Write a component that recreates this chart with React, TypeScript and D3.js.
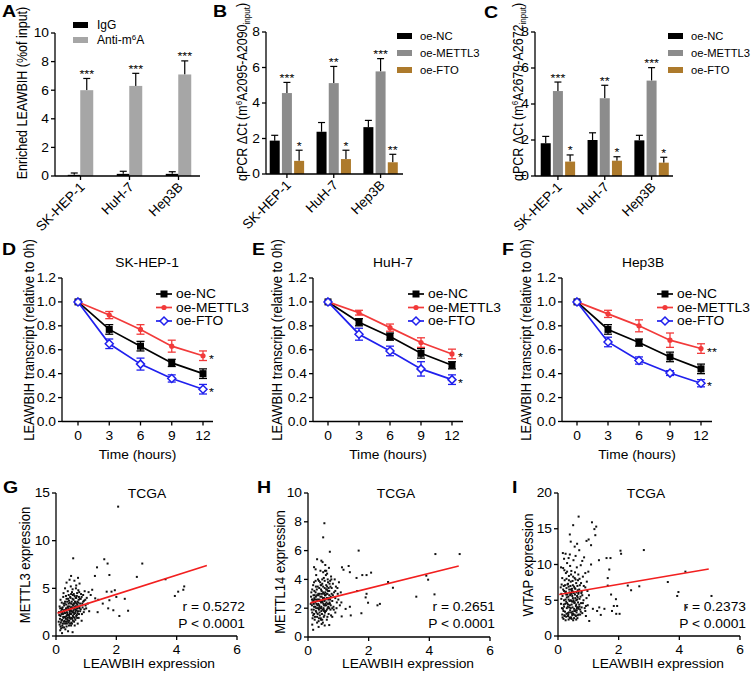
import React from 'react';
import * as d3 from 'd3';

const FONT = '"Liberation Sans", Arial, Helvetica, sans-serif';
const SX = 1.15;
const FS = 12;

// ---------- A/B/C bar data ----------
const cellLines = ['SK-HEP-1', 'HuH-7', 'Hep3B'];
const aIgG = [0.08, 0.15, 0.15];
const aIgGErr = [0.13, 0.18, 0.15];
const aAnti = [6.0, 6.3, 7.1];
const aAntiErr = [0.82, 0.88, 0.95];
const aStars = ['***', '***', '***'];
const aTicks = [0, 2, 4, 6, 8, 10];

const bNC = [1.88, 2.38, 2.64];
const bNCErr = [0.3, 0.52, 0.38];
const bMETTL3 = [4.56, 5.12, 5.78];
const bMETTL3Err = [0.6, 0.94, 0.72];
const bFTO = [0.74, 0.84, 0.66];
const bFTOErr = [0.6, 0.5, 0.45];
const bStarsM = ['***', '**', '***'];
const bStarsF = ['*', '*', '**'];

const cNC = [1.82, 2.0, 1.98];
const cNCErr = [0.38, 0.4, 0.28];
const cMETTL3 = [4.72, 4.32, 5.3];
const cMETTL3Err = [0.5, 0.72, 0.72];
const cFTO = [0.8, 0.85, 0.74];
const cFTOErr = [0.37, 0.22, 0.3];
const cStarsM = ['***', '**', '***'];
const cStarsF = ['*', '*', '*'];
const qpcrTicks = [0, 2, 4, 6, 8];

// ---------- D/E/F line data ----------
const timePoints = [0, 3, 6, 9, 12];
const timeTicks = [0, 3, 6, 9, 12];
const relTicks = [0, 0.2, 0.4, 0.6, 0.8, 1.0, 1.2];

const dNC = [1.0, 0.77, 0.63, 0.49, 0.4];
const dNCErr = [0, 0.04, 0.04, 0.03, 0.04];
const dMETTL3 = [1.0, 0.89, 0.77, 0.63, 0.55];
const dMETTL3Err = [0, 0.03, 0.04, 0.05, 0.04];
const dFTO = [1.0, 0.65, 0.48, 0.36, 0.27];
const dFTOErr = [0, 0.04, 0.05, 0.03, 0.04];

const eNC = [1.0, 0.83, 0.71, 0.57, 0.47];
const eNCErr = [0, 0.03, 0.03, 0.04, 0.03];
const eMETTL3 = [1.0, 0.91, 0.785, 0.66, 0.565];
const eMETTL3Err = [0, 0.02, 0.03, 0.04, 0.04];
const eFTO = [1.0, 0.73, 0.59, 0.44, 0.35];
const eFTOErr = [0, 0.05, 0.04, 0.06, 0.04];

const fNC = [1.0, 0.77, 0.66, 0.54, 0.44];
const fNCErr = [0, 0.04, 0.03, 0.04, 0.04];
const fMETTL3 = [1.0, 0.9, 0.8, 0.68, 0.61];
const fMETTL3Err = [0, 0.03, 0.05, 0.06, 0.04];
const fFTO = [1.0, 0.665, 0.51, 0.405, 0.32];
const fFTOErr = [0, 0.04, 0.03, 0.02, 0.03];

// ---------- G/H/I scatter data ----------
const exprTicks = [0, 2, 4, 6];
const gTicks = [0, 5, 10, 15];
const hTicks = [0, 2, 4, 6, 8, 10];
const iTicks = [0, 5, 10, 15, 20];

const gPoints = [
  [2.06, 13.57], [0.57, 8.15], [1.6, 8.05], [1.71, 7.6], [2.86, 7.6], [1.36, 7.2], [1.77, 6.4], [1.29, 6.3],
  [2.68, 6.2], [3.63, 5.95], [4.25, 5.2], [4.22, 4.85], [4.05, 4.65], [3.94, 4.2], [1.68, 4.65], [1.84, 4.65],
  [1.95, 4.8], [2.28, 3.9], [2.0, 4.1], [1.77, 3.75], [1.73, 2.9], [1.9, 2.7], [2.1, 2.1], [2.39, 2.65],
  [1.38, 2.5], [1.55, 3.4], [1.4, 3.8], [1.08, 4.6], [1.2, 4.85], [1.15, 4.3], [1.3, 3.95],
  [0.12, 1.2], [0.15, 2.1], [0.18, 1.6], [0.2, 2.8], [0.22, 0.9], [0.25, 1.9], [0.27, 3.2], [0.28, 2.4],
  [0.3, 1.3], [0.3, 3.6], [0.32, 2.0], [0.33, 2.9], [0.35, 1.0], [0.35, 3.9], [0.36, 2.5], [0.38, 1.7],
  [0.4, 3.1], [0.4, 2.2], [0.42, 4.3], [0.42, 1.4], [0.44, 2.7], [0.45, 3.5], [0.46, 1.9], [0.48, 2.3],
  [0.48, 4.0], [0.5, 1.1], [0.5, 3.0], [0.52, 2.6], [0.53, 4.6], [0.54, 1.8], [0.55, 3.3], [0.56, 2.1],
  [0.58, 3.8], [0.6, 2.9], [0.6, 1.5], [0.62, 4.2], [0.63, 2.4], [0.65, 3.5], [0.66, 5.0], [0.68, 2.7],
  [0.7, 1.9], [0.7, 4.5], [0.72, 3.1], [0.75, 3.8], [0.76, 2.3], [0.78, 5.5], [0.8, 3.4], [0.82, 2.8],
  [0.85, 4.1], [0.88, 3.0], [0.9, 3.6], [0.92, 2.5], [0.95, 4.7], [0.98, 3.2], [1.0, 2.9], [1.02, 4.0],
  [1.05, 3.4], [1.1, 2.6], [0.1, 2.5], [0.12, 3.1], [0.14, 0.6], [0.16, 1.4], [0.17, 2.6], [0.19, 3.5],
  [0.21, 1.1], [0.23, 2.3], [0.24, 4.1], [0.26, 1.5], [0.29, 2.7], [0.31, 0.7], [0.34, 3.3], [0.37, 2.2],
  [0.39, 4.7], [0.41, 1.6], [0.43, 3.7], [0.47, 2.8], [0.49, 5.2], [0.51, 1.4], [0.55, 4.9], [0.57, 2.5],
  [0.59, 3.4], [0.61, 5.8], [0.64, 3.1], [0.67, 4.0], [0.69, 2.2], [0.71, 3.6], [0.73, 6.1], [0.74, 4.8],
  [0.77, 2.9], [0.79, 3.9], [0.83, 4.4], [0.86, 2.3], [0.93, 3.7], [0.2, 0.3], [0.25, 4.5], [0.3, 5.0],
  [0.45, 5.9], [0.5, 6.3], [0.35, 5.6], [0.55, 0.4], [0.15, 3.8], [0.62, 1.1], [0.4, 0.5], [0.72, 1.3],
  [0.85, 1.6], [0.28, 2.0], [0.33, 1.8], [0.46, 2.6], [0.52, 3.6], [0.58, 2.0], [0.65, 2.6], [0.38, 3.0],
  [0.44, 2.0], [0.27, 2.6], [0.36, 1.3],
];
const gCore = [
  [0.18, 2.3], [0.2, 1.7], [0.22, 3.0], [0.24, 2.0], [0.26, 2.7], [0.28, 1.6], [0.29, 3.4], [0.31, 2.4],
  [0.32, 1.5], [0.34, 2.8], [0.35, 2.1], [0.37, 3.6], [0.38, 2.4], [0.39, 1.9], [0.41, 2.9], [0.42, 3.4],
  [0.43, 2.2], [0.44, 1.6], [0.45, 3.1], [0.46, 2.4], [0.47, 4.1], [0.48, 1.8], [0.49, 2.7], [0.5, 3.4],
  [0.51, 2.3], [0.52, 1.9], [0.53, 3.0], [0.54, 2.5], [0.55, 3.9], [0.56, 1.6], [0.57, 3.2], [0.58, 2.7],
  [0.59, 4.4], [0.6, 2.3], [0.61, 3.0], [0.62, 1.9], [0.63, 3.6], [0.64, 2.8], [0.65, 4.0], [0.66, 3.1],
  [0.67, 2.1], [0.68, 3.4], [0.69, 4.2], [0.7, 2.9], [0.71, 3.3], [0.73, 2.6], [0.74, 3.5], [0.76, 4.1],
  [0.78, 3.0], [0.8, 2.6], [0.15, 1.0], [0.17, 0.8], [0.19, 2.9], [0.23, 1.3], [0.25, 3.4], [0.27, 0.9],
  [0.33, 4.2], [0.36, 1.5], [0.4, 3.9], [0.43, 1.1], [0.47, 1.3], [0.5, 4.4], [0.53, 1.3], [0.56, 4.3],
  [0.6, 3.4], [0.64, 1.7], [0.67, 5.3], [0.71, 2.4], [0.75, 1.9], [0.77, 4.6], [0.82, 3.9], [0.87, 3.4],
  [0.9, 4.3], [0.94, 2.8], [0.97, 3.8], [0.13, 1.8], [0.11, 2.2], [0.09, 1.5], [0.14, 2.9], [0.21, 2.5],
];

const hPoints = [
  [0.54, 7.9], [0.5, 6.92], [0.72, 5.92], [1.67, 6.0], [4.2, 5.76], [5.0, 5.76], [1.34, 4.93], [1.12, 4.84],
  [1.17, 4.67], [2.08, 4.47], [1.93, 4.3], [1.79, 4.3], [1.6, 4.1], [1.38, 4.5], [2.64, 3.82], [2.8, 3.42],
  [3.9, 4.26], [3.96, 3.98], [4.17, 2.96], [3.57, 2.8], [1.62, 3.19], [1.93, 3.0], [1.9, 2.75], [1.98, 2.38],
  [2.37, 2.3], [2.29, 2.2], [1.76, 1.65], [1.38, 2.1], [1.24, 1.95], [1.41, 1.5], [1.11, 1.43], [0.7, 0.83],
  [0.17, 0.5], [0.14, 0.86], [0.3, 1.0], [0.2, 4.85], [0.44, 5.3],
  [0.1, 2.8], [0.12, 1.9], [0.14, 3.3], [0.15, 2.4], [0.17, 1.5], [0.18, 2.9], [0.2, 2.1], [0.2, 3.8],
  [0.22, 1.2], [0.23, 2.6], [0.25, 3.1], [0.26, 1.8], [0.27, 4.3], [0.28, 2.3], [0.3, 2.9], [0.3, 1.4],
  [0.32, 3.5], [0.33, 2.0], [0.34, 2.6], [0.35, 1.1], [0.36, 3.9], [0.37, 2.2], [0.38, 1.7], [0.39, 3.0],
  [0.4, 2.5], [0.41, 4.6], [0.42, 1.3], [0.43, 3.3], [0.44, 2.1], [0.45, 2.8], [0.46, 1.6], [0.47, 3.7],
  [0.48, 2.4], [0.49, 1.0], [0.5, 3.1], [0.51, 2.0], [0.52, 4.1], [0.53, 2.7], [0.54, 1.5], [0.55, 3.4],
  [0.56, 2.2], [0.57, 5.0], [0.58, 2.9], [0.59, 1.8], [0.6, 3.6], [0.61, 2.4], [0.62, 1.2], [0.63, 4.4],
  [0.64, 3.0], [0.65, 2.0], [0.66, 3.8], [0.67, 2.6], [0.68, 1.6], [0.69, 4.8], [0.7, 3.2], [0.72, 2.3],
  [0.73, 3.9], [0.74, 1.9], [0.75, 2.8], [0.76, 4.2], [0.78, 3.4], [0.8, 2.5], [0.82, 3.7], [0.84, 2.1],
  [0.86, 3.1], [0.88, 4.0], [0.9, 2.7], [0.92, 3.5], [0.95, 2.4], [0.98, 3.0], [1.0, 2.6], [1.02, 3.8],
  [1.05, 2.2], [0.13, 2.2], [0.16, 2.6], [0.19, 1.9], [0.21, 3.2], [0.24, 2.4], [0.29, 2.6], [0.31, 2.2],
  [0.34, 3.0], [0.38, 2.6], [0.4, 2.0], [0.43, 2.4], [0.46, 3.0], [0.5, 2.6], [0.53, 2.2], [0.56, 2.9],
  [0.58, 2.3], [0.62, 2.7], [0.66, 2.3], [0.7, 2.7], [0.45, 0.9], [0.55, 0.8], [0.35, 0.7], [0.25, 4.7],
  [0.3, 5.4], [0.48, 5.2], [0.6, 4.6], [0.8, 1.4], [0.9, 1.7], [0.62, 3.3], [0.26, 3.5], [0.44, 3.6],
  [0.52, 1.9], [0.7, 2.0], [0.36, 1.9],
];
const hCore = [
  [0.18, 2.5], [0.2, 1.6], [0.22, 2.9], [0.24, 2.1], [0.26, 2.8], [0.28, 1.7], [0.29, 3.3], [0.31, 2.5],
  [0.32, 1.6], [0.34, 2.3], [0.35, 2.9], [0.37, 3.4], [0.38, 2.1], [0.39, 1.5], [0.41, 2.8], [0.42, 3.6],
  [0.43, 2.0], [0.44, 1.8], [0.45, 3.2], [0.46, 2.5], [0.47, 4.0], [0.48, 1.9], [0.49, 2.7], [0.5, 3.5],
  [0.51, 2.3], [0.52, 1.4], [0.53, 3.0], [0.54, 2.5], [0.55, 3.9], [0.56, 1.7], [0.57, 3.1], [0.58, 2.6],
  [0.59, 4.3], [0.6, 2.2], [0.61, 3.0], [0.62, 1.9], [0.63, 3.5], [0.64, 2.7], [0.65, 4.0], [0.66, 3.2],
  [0.67, 2.1], [0.68, 3.4], [0.7, 2.9], [0.71, 2.4], [0.73, 2.6], [0.74, 3.5], [0.76, 1.5], [0.78, 3.0],
  [0.8, 2.0], [0.15, 1.3], [0.17, 3.6], [0.19, 2.3], [0.23, 1.4], [0.25, 3.9], [0.27, 2.0], [0.33, 4.0],
  [0.36, 1.3], [0.4, 3.8], [0.43, 1.2], [0.47, 1.2], [0.5, 4.5], [0.53, 1.8], [0.56, 4.6], [0.6, 3.3],
  [0.64, 1.4], [0.71, 3.7], [0.75, 2.2], [0.77, 4.0], [0.82, 2.9], [0.85, 1.9], [0.9, 3.2], [0.94, 2.0],
  [0.97, 3.4], [0.13, 2.6], [0.11, 3.1], [0.09, 2.3], [0.14, 1.7], [0.21, 2.7], [1.08, 3.1], [1.1, 2.4],
];

const iPoints = [
  [0.68, 16.7], [0.5, 15.5], [1.12, 15.9], [1.26, 15.3], [1.2, 14.95], [0.39, 14.2], [1.23, 14.1], [1.01, 13.5],
  [0.94, 13.3], [0.63, 12.9], [1.09, 12.7], [2.06, 11.93], [2.08, 11.5], [2.83, 12.02], [0.16, 11.6], [1.73, 10.9],
  [1.6, 10.9], [1.35, 10.6], [1.69, 9.3], [1.09, 10.0], [4.2, 9.0], [1.64, 8.1], [1.64, 7.05], [2.3, 7.05],
  [2.68, 6.95], [2.41, 6.4], [3.62, 7.55], [3.97, 6.15], [3.93, 5.6], [5.06, 5.6], [4.24, 4.0], [1.75, 5.8],
  [1.91, 5.15], [1.84, 4.2], [1.95, 4.2], [2.03, 3.1], [1.92, 3.1], [1.78, 3.5], [1.53, 3.8], [1.36, 4.0],
  [1.29, 3.5], [1.15, 3.8], [1.41, 2.95], [1.03, 2.1], [0.92, 4.2], [0.1, 9.6],
  [0.1, 4.5], [0.12, 7.2], [0.14, 3.0], [0.15, 5.6], [0.17, 9.5], [0.18, 2.4], [0.2, 6.3], [0.2, 4.1],
  [0.22, 7.8], [0.23, 3.4], [0.25, 5.1], [0.26, 8.8], [0.27, 2.7], [0.28, 6.7], [0.3, 4.6], [0.3, 10.2],
  [0.32, 3.2], [0.33, 7.3], [0.34, 5.5], [0.35, 2.3], [0.36, 8.4], [0.37, 4.0], [0.38, 6.1], [0.39, 11.4],
  [0.4, 3.6], [0.41, 7.0], [0.42, 5.0], [0.43, 2.6], [0.44, 9.1], [0.45, 4.4], [0.46, 6.6], [0.47, 3.1],
  [0.48, 7.7], [0.49, 5.3], [0.5, 2.2], [0.51, 10.6], [0.52, 4.8], [0.53, 6.9], [0.54, 3.5], [0.55, 8.1],
  [0.56, 5.8], [0.57, 2.9], [0.58, 11.2], [0.59, 4.2], [0.6, 7.4], [0.61, 3.3], [0.62, 9.6], [0.63, 5.6],
  [0.64, 2.5], [0.65, 6.4], [0.66, 4.0], [0.67, 8.6], [0.68, 3.0], [0.7, 12.0], [0.71, 5.2], [0.72, 7.1],
  [0.73, 3.7], [0.75, 9.9], [0.76, 4.6], [0.78, 6.2], [0.8, 3.2], [0.82, 8.3], [0.84, 5.0], [0.86, 11.0],
  [0.88, 3.9], [0.9, 6.8], [0.92, 2.8], [0.95, 7.6], [0.98, 4.3], [1.0, 9.0], [1.02, 5.7], [0.11, 5.9],
  [0.16, 3.8], [0.19, 7.0], [0.21, 2.9], [0.24, 6.0], [0.29, 3.9], [0.31, 5.8], [0.33, 2.8], [0.35, 6.9],
  [0.38, 4.9], [0.4, 5.7], [0.42, 3.9], [0.45, 5.9], [0.47, 4.8], [0.5, 6.2], [0.52, 3.0], [0.55, 4.7],
  [0.57, 6.6], [0.6, 5.0], [0.62, 3.9], [0.65, 5.4], [0.68, 6.1], [0.7, 4.4], [0.43, 6.5], [0.36, 3.3],
  [0.27, 4.8], [0.48, 3.4], [0.58, 3.6], [0.66, 7.8], [0.25, 11.5], [0.35, 10.9], [0.55, 12.5], [0.42, 13.2],
  [0.8, 10.5], [0.9, 8.8], [0.3, 9.0], [0.2, 10.8],
];
const iCore = [
  [0.18, 3.5], [0.2, 5.0], [0.22, 2.8], [0.24, 4.5], [0.26, 6.2], [0.28, 3.1], [0.29, 5.4], [0.31, 7.2],
  [0.32, 4.1], [0.34, 3.0], [0.35, 5.1], [0.37, 6.5], [0.38, 2.6], [0.39, 4.3], [0.41, 5.9], [0.42, 7.6],
  [0.43, 3.3], [0.44, 4.9], [0.45, 2.4], [0.46, 6.3], [0.47, 5.6], [0.48, 4.0], [0.49, 7.1], [0.5, 3.1],
  [0.51, 5.0], [0.52, 6.0], [0.53, 2.5], [0.54, 4.6], [0.55, 6.7], [0.56, 3.5], [0.57, 5.3], [0.58, 7.9],
  [0.59, 2.8], [0.6, 4.4], [0.61, 6.1], [0.62, 3.6], [0.63, 5.1], [0.64, 7.0], [0.65, 2.9], [0.66, 4.7],
  [0.67, 5.9], [0.68, 3.8], [0.7, 6.5], [0.71, 4.1], [0.73, 3.0], [0.74, 5.5], [0.76, 7.4], [0.78, 4.0],
  [0.8, 5.7], [0.15, 2.6], [0.17, 6.5], [0.19, 4.4], [0.23, 7.1], [0.25, 2.2], [0.27, 5.8], [0.33, 4.4],
  [0.36, 7.8], [0.4, 2.5], [0.43, 8.6], [0.47, 2.9], [0.5, 8.3], [0.53, 3.8], [0.56, 8.9], [0.6, 2.3],
  [0.64, 4.0], [0.71, 8.0], [0.75, 3.4], [0.77, 6.0], [0.82, 4.6], [0.85, 7.0], [0.9, 3.5], [0.94, 5.3],
  [0.97, 6.3], [0.13, 3.9], [0.11, 5.2], [0.09, 6.8], [0.14, 8.1], [0.21, 9.2], [0.28, 8.0], [0.4, 9.8],
];

const gFit = [[0.05, 2.4], [5.0, 7.4]];
const hFit = [[0.08, 2.37], [4.97, 4.93]];
const iFit = [[0.04, 5.8], [4.97, 9.37]];

// ---------- helpers ----------
function T({ x, y, children, size = FS, anchor = 'start', rotate = 0, weight = 'normal', fill = '#000', sx = SX }: any) {
  return (
    <text
      transform={`translate(${x},${y}) scale(${sx},1)${rotate ? ` rotate(${rotate})` : ''}`}
      fontSize={size}
      textAnchor={anchor}
      fontWeight={weight}
      fill={fill}
    >
      {children}
    </text>
  );
}

const AX = { stroke: '#000', strokeWidth: 1.3 };

function BarPanel({ cfg }: any) {
  const { axisX, axisEnd, yTop, yBottom, yMax, ticks, xRange, series, barW, barStep, legend, letter, ylabel } = cfg;
  const y = d3.scaleLinear().domain([0, yMax]).range([yBottom, yTop]);
  const x = d3.scalePoint<string>().domain(cellLines).range(xRange).padding(0.5);
  const n = series.length;
  return (
    <g>
      <T x={letter.x} y={letter.y} size={17} weight="bold">{letter.t}</T>
      {series.map((s: any, j: number) =>
        cellLines.map((c, i) => {
          const cx = (x(c) as number) + (j - (n - 1) / 2) * barStep;
          const top = y(s.values[i]);
          const cap = y(s.values[i] + s.errs[i]);
          return (
            <g key={`${j}-${i}`}>
              <line x1={cx} x2={cx} y1={top} y2={cap} stroke="#000" strokeWidth={1.2} />
              <line x1={cx - 3.5} x2={cx + 3.5} y1={cap} y2={cap} stroke="#000" strokeWidth={1.2} />
              <rect x={cx - barW / 2} y={top} width={barW} height={yBottom - top} fill={s.color} />
              {s.stars[i] ? <T x={cx} y={cap - 0.5} size={11} anchor="middle">{s.stars[i]}</T> : null}
            </g>
          );
        })
      )}
      <line x1={axisX} x2={axisX} y1={yBottom} y2={yTop} {...AX} />
      <line x1={axisX} x2={axisEnd} y1={yBottom} y2={yBottom} {...AX} />
      {ticks.map((t: number) => (
        <g key={t}>
          <line x1={axisX - 4} x2={axisX} y1={y(t)} y2={y(t)} {...AX} />
          <T x={axisX - 6} y={y(t) + 4.3} anchor="end">{t}</T>
        </g>
      ))}
      {cellLines.map((c) => (
        <g key={c}>
          <line x1={x(c)} x2={x(c)} y1={yBottom} y2={yBottom + 4} {...AX} />
          <T x={(x(c) as number) + 5} y={yBottom + 12} anchor="end" rotate={-45} sx={1} size={13.5}>{c}</T>
        </g>
      ))}
      {series.map((s: any, j: number) => (
        <g key={s.label}>
          <rect x={legend.x} y={legend.y0 + j * legend.dy - 3} width={15} height={6} fill={s.color} />
          <T x={legend.textX} y={legend.y0 + j * legend.dy + 4.2} sx={1} size={legend.size}>{s.labelNode || s.label}</T>
        </g>
      ))}
      <T x={ylabel.x} y={ylabel.y} anchor="middle" rotate={-90} size={12.5}>{ylabel.node}</T>
    </g>
  );
}

function Marker({ type, x, y, color }: any) {
  if (type === 'square') return <rect x={x - 3.5} y={y - 3.5} width={7} height={7} fill={color} />;
  if (type === 'dot') return <circle cx={x} cy={y} r={2.6} fill={color} />;
  return (
    <path d={`M${x},${y - 4}L${x + 4},${y}L${x},${y + 4}L${x - 4},${y}Z`} fill="#fff" stroke={color} strokeWidth={1.5} />
  );
}

function LinePanel({ cfg }: any) {
  const { axisX, x0, x12, axisEnd, yTop, yBottom, title, titleX, letter, series, legendX, ylabelX } = cfg;
  const x = d3.scaleLinear().domain([0, 12]).range([x0, x12]);
  const y = d3.scaleLinear().domain([0, 1.2]).range([yBottom, yTop]);
  const line = d3.line<number>().x((_, i) => x(timePoints[i])).y((d) => y(d));
  return (
    <g>
      <T x={letter.x} y={letter.y} size={17} weight="bold">{letter.t}</T>
      <T x={titleX} y={267} anchor="middle">{title}</T>
      <line x1={axisX} x2={axisX} y1={yBottom} y2={yTop} {...AX} />
      <line x1={axisX} x2={axisEnd} y1={yBottom} y2={yBottom} {...AX} />
      {relTicks.map((t) => (
        <g key={t}>
          <line x1={axisX - 4} x2={axisX} y1={y(t)} y2={y(t)} {...AX} />
          <T x={axisX - 6} y={y(t) + 4.3} anchor="end">{t.toFixed(1)}</T>
        </g>
      ))}
      {timeTicks.map((t) => (
        <g key={t}>
          <line x1={x(t)} x2={x(t)} y1={yBottom} y2={yBottom + 4} {...AX} />
          <T x={x(t)} y={yBottom + 18} anchor="middle">{t}</T>
        </g>
      ))}
      <T x={(axisX + axisEnd) / 2} y={459} anchor="middle">Time (hours)</T>
      <T x={ylabelX} y={340} anchor="middle" rotate={-90} size={13}>LEAWBIH transcript (relative to 0h)</T>
      {series.map((s: any) => (
        <g key={s.name}>
          <path d={line(s.values) || ''} fill="none" stroke={s.color} strokeWidth={1.7} />
          {s.values.map((v: number, i: number) =>
            s.errs[i] > 0 ? (
              <g key={i}>
                <line x1={x(timePoints[i])} x2={x(timePoints[i])} y1={y(v - s.errs[i])} y2={y(v + s.errs[i])} stroke={s.color} strokeWidth={1.3} />
                <line x1={x(timePoints[i]) - 4} x2={x(timePoints[i]) + 4} y1={y(v - s.errs[i])} y2={y(v - s.errs[i])} stroke={s.color} strokeWidth={1.3} />
                <line x1={x(timePoints[i]) - 4} x2={x(timePoints[i]) + 4} y1={y(v + s.errs[i])} y2={y(v + s.errs[i])} stroke={s.color} strokeWidth={1.3} />
              </g>
            ) : null
          )}
          {s.values.map((v: number, i: number) => (
            <Marker key={i} type={s.marker} x={x(timePoints[i])} y={y(v)} color={s.color} />
          ))}
          {s.star ? <T x={x(12) + 6} y={y(s.values[4]) + 7} size={11}>{s.star}</T> : null}
        </g>
      ))}
      {series.map((s: any, j: number) => (
        <g key={'lg' + s.name}>
          <line x1={legendX} x2={legendX + 16} y1={294 + j * 13.5} y2={294 + j * 13.5} stroke={s.color} strokeWidth={1.7} />
          <Marker type={s.marker} x={legendX + 8} y={294 + j * 13.5} color={s.color} />
          <T x={legendX + 20} y={294 + j * 13.5 + 4.3}>{s.name}</T>
        </g>
      ))}
    </g>
  );
}

function ScatterPanel({ cfg }: any) {
  const { axisX, xEnd, yTop, yBottom, yMax, ticks, points, core, fit, letter, ylabel, ylabelX, ylabelY, titleX, xlabelX, r, rightX } = cfg;
  const x = d3.scaleLinear().domain([0, 6]).range([axisX, xEnd]);
  const y = d3.scaleLinear().domain([0, yMax]).range([yBottom, yTop]);
  const all = points.concat(core);
  return (
    <g>
      <T x={letter.x} y={letter.y} size={17} weight="bold">{letter.t}</T>
      <T x={titleX} y={498} anchor="middle">TCGA</T>
      {all.map((p: number[], i: number) => (
        <rect key={i} x={x(p[0]) - 1} y={y(p[1]) - 1} width={2} height={2} fill="#111" />
      ))}
      <line x1={x(fit[0][0])} y1={y(fit[0][1])} x2={x(fit[1][0])} y2={y(fit[1][1])} stroke="#f21f1f" strokeWidth={1.6} />
      <line x1={axisX} x2={axisX} y1={yBottom} y2={yTop} {...AX} />
      <line x1={axisX} x2={xEnd} y1={yBottom} y2={yBottom} {...AX} />
      {ticks.map((t: number) => (
        <g key={t}>
          <line x1={axisX - 4} x2={axisX} y1={y(t)} y2={y(t)} {...AX} />
          <T x={axisX - 6} y={y(t) + 4.3} anchor="end">{t}</T>
        </g>
      ))}
      {exprTicks.map((t) => (
        <g key={t}>
          <line x1={x(t)} x2={x(t)} y1={yBottom} y2={yBottom + 4} {...AX} />
          <T x={x(t)} y={yBottom + 18} anchor="middle">{t}</T>
        </g>
      ))}
      <T x={xlabelX} y={668} anchor="middle">LEAWBIH expression</T>
      <T x={ylabelX} y={ylabelY} anchor="middle" rotate={-90} size={13}>{ylabel}</T>
      <T x={rightX} y={611} anchor="end">{`r = ${r}`}</T>
      <T x={rightX} y={628} anchor="end">P &lt; 0.0001</T>
    </g>
  );
}

const GRAY_DARK = '#8c8c8c';
const GRAY_LIGHT = '#a6a6a6';
const BROWN = '#ad7a2c';
const RED = '#f23a3a';
const BLUE = '#2020ee';

function qpcrLabel(a: string) {
  return (
    <>
      qPCR ΔCt (m<tspan dy={-4} fontSize={8}>6</tspan>
      <tspan dy={4}>{a}</tspan>
      <tspan dy={3} fontSize={8}>input</tspan>
      <tspan dy={-3}>)</tspan>
    </>
  );
}

export default function App() {
  const panelA = {
    letter: { t: 'A', x: 2, y: 17 },
    axisX: 55, axisEnd: 200, yTop: 33, yBottom: 176, yMax: 10, ticks: aTicks,
    xRange: [56, 203], barW: 13, barStep: 12.5,
    series: [
      { label: 'IgG', color: '#000', values: aIgG, errs: aIgGErr, stars: ['', '', ''] },
      {
        label: 'Anti-m6A', color: GRAY_LIGHT, values: aAnti, errs: aAntiErr, stars: aStars,
        labelNode: <>Anti-m<tspan dy={-4} fontSize={8}>6</tspan><tspan dy={4}>A</tspan></>,
      },
    ],
    legend: { x: 73, y0: 25, dy: 15, textX: 97, size: 12 },
    ylabel: { x: 27, y: 93, node: 'Enriched LEAWBIH (%of input)' },
  };
  const panelB = {
    letter: { t: 'B', x: 213, y: 17 },
    axisX: 266, axisEnd: 403, yTop: 32, yBottom: 174, yMax: 8, ticks: qpcrTicks,
    xRange: [263.5, 404], barW: 10, barStep: 12.2,
    series: [
      { label: 'oe-NC', color: '#000', values: bNC, errs: bNCErr, stars: ['', '', ''] },
      { label: 'oe-METTL3', color: GRAY_DARK, values: bMETTL3, errs: bMETTL3Err, stars: bStarsM },
      { label: 'oe-FTO', color: BROWN, values: bFTO, errs: bFTOErr, stars: bStarsF },
    ],
    legend: { x: 397, y0: 36, dy: 17, textX: 420, size: 11.3 },
    ylabel: { x: 247, y: 92, node: qpcrLabel('A2095-A2090') },
  };
  const panelC = {
    letter: { t: 'C', x: 484, y: 18 },
    axisX: 535, axisEnd: 673, yTop: 32, yBottom: 176, yMax: 8, ticks: qpcrTicks,
    xRange: [534.5, 675], barW: 10, barStep: 12.2,
    series: [
      { label: 'oe-NC', color: '#000', values: cNC, errs: cNCErr, stars: ['', '', ''] },
      { label: 'oe-METTL3', color: GRAY_DARK, values: cMETTL3, errs: cMETTL3Err, stars: cStarsM },
      { label: 'oe-FTO', color: BROWN, values: cFTO, errs: cFTOErr, stars: cStarsF },
    ],
    legend: { x: 668, y0: 36, dy: 17, textX: 691, size: 11.2 },
    ylabel: { x: 523, y: 92, node: qpcrLabel('A2679-A2672') },
  };

  const mk = (nc: number[], ncE: number[], m: number[], mE: number[], f: number[], fE: number[], sm: string, sf: string) => [
    { name: 'oe-NC', color: '#000', marker: 'square', values: nc, errs: ncE, star: '' },
    { name: 'oe-METTL3', color: RED, marker: 'dot', values: m, errs: mE, star: sm },
    { name: 'oe-FTO', color: BLUE, marker: 'diamond', values: f, errs: fE, star: sf },
  ];
  const panelD = {
    letter: { t: 'D', x: 2, y: 255 }, axisX: 62, x0: 78, x12: 203, axisEnd: 213, yTop: 278, yBottom: 421.5,
    title: 'SK-HEP-1', titleX: 147, legendX: 156, ylabelX: 34,
    series: mk(dNC, dNCErr, dMETTL3, dMETTL3Err, dFTO, dFTOErr, '*', '*'),
  };
  const panelE = {
    letter: { t: 'E', x: 252, y: 255 }, axisX: 313, x0: 328, x12: 452, axisEnd: 463, yTop: 278, yBottom: 421.5,
    title: 'HuH-7', titleX: 393, legendX: 408, ylabelX: 282,
    series: mk(eNC, eNCErr, eMETTL3, eMETTL3Err, eFTO, eFTOErr, '*', '*'),
  };
  const panelF = {
    letter: { t: 'F', x: 502, y: 255 }, axisX: 562, x0: 577, x12: 701, axisEnd: 712, yTop: 278, yBottom: 421.5,
    title: 'Hep3B', titleX: 643, legendX: 657, ylabelX: 531,
    series: mk(fNC, fNCErr, fMETTL3, fMETTL3Err, fFTO, fFTOErr, '**', '*'),
  };

  const panelG = {
    letter: { t: 'G', x: 3, y: 493 }, axisX: 56, xEnd: 237, yTop: 493, yBottom: 636, yMax: 15, ticks: gTicks,
    points: gPoints, core: gCore, fit: gFit, ylabel: 'METTL3 expression', ylabelX: 30, ylabelY: 565, titleX: 147, xlabelX: 149,
    r: '0.5272', rightX: 245,
  };
  const panelH = {
    letter: { t: 'H', x: 257, y: 493 }, axisX: 308, xEnd: 490, yTop: 493, yBottom: 637, yMax: 10, ticks: hTicks,
    points: hPoints, core: hCore, fit: hFit, ylabel: 'METTL14 expression', ylabelX: 285, ylabelY: 572, titleX: 396, xlabelX: 408,
    r: '0.2651', rightX: 495,
  };
  const panelI = {
    letter: { t: 'I', x: 512, y: 493 }, axisX: 558, xEnd: 740, yTop: 493, yBottom: 636, yMax: 20, ticks: iTicks,
    points: iPoints, core: iCore, fit: iFit, ylabel: 'WTAP expression', ylabelX: 533, ylabelY: 565, titleX: 646, xlabelX: 658,
    r: '0.2373', rightX: 746,
  };

  return (
    <svg
      width={753}
      height={674}
      style={{ position: 'absolute', left: 0, top: 0, display: 'block' }}
      fontFamily={FONT}
    >
      <rect width={753} height={674} fill="#fff" />
      <BarPanel cfg={panelA} />
      <BarPanel cfg={panelB} />
      <BarPanel cfg={panelC} />
      <LinePanel cfg={panelD} />
      <LinePanel cfg={panelE} />
      <LinePanel cfg={panelF} />
      <ScatterPanel cfg={panelG} />
      <ScatterPanel cfg={panelH} />
      <ScatterPanel cfg={panelI} />
    </svg>
  );
}
